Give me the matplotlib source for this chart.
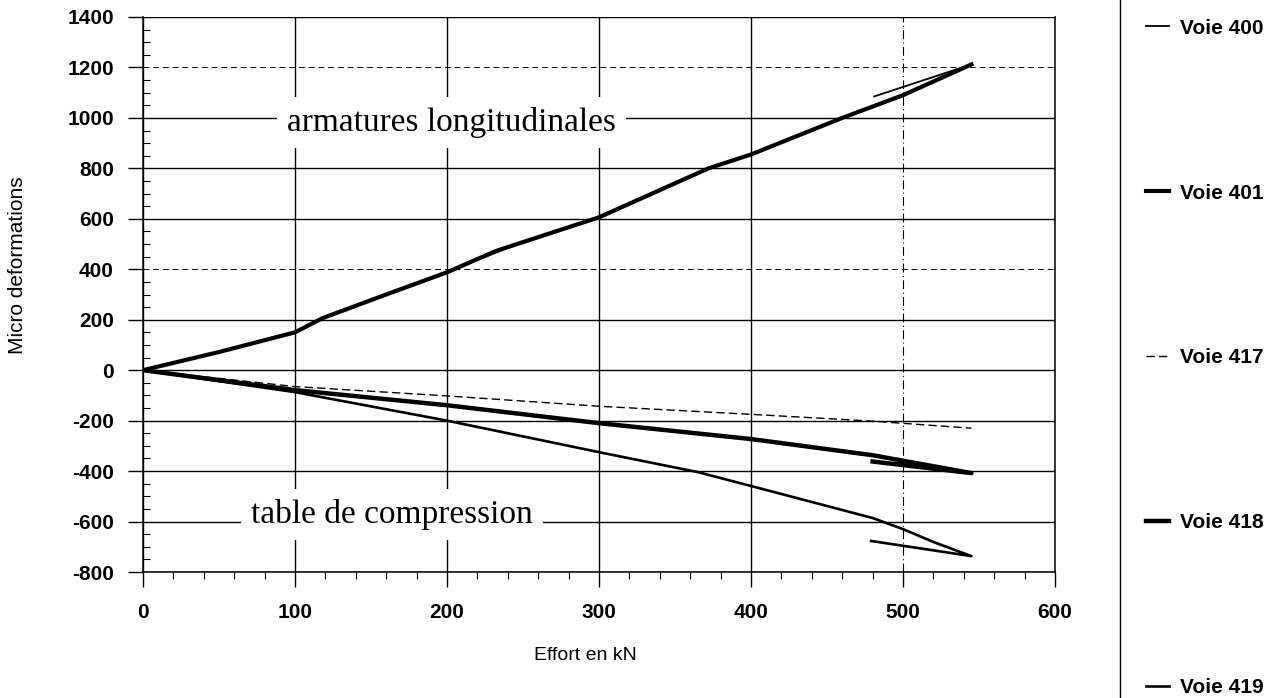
import matplotlib.pyplot as plt
from matplotlib.lines import Line2D
from matplotlib.ticker import MultipleLocator

# effort (kN) / micro deformations
x_400 = [0, 50, 100, 118, 160, 200, 240, 300, 372, 400, 460, 500, 545, 481]
y_400 = [0, 72, 150, 206, 300, 388, 485, 606, 800, 855, 1000, 1090, 1212, 1085]

x_401 = [0, 50, 100, 118, 160, 200, 232, 240, 300, 372, 400, 460, 500, 545]
y_401 = [0, 72, 150, 206, 300, 388, 472, 488, 606, 800, 855, 1000, 1090, 1212]

x_417 = [0, 100, 200, 300, 400, 480, 545]
y_417 = [0, -65, -102, -143, -175, -202, -230]

x_418 = [0, 100, 200, 300, 400, 480, 545, 480]
y_418 = [0, -79, -139, -210, -273, -337, -408, -362]

x_419 = [0, 100, 200, 240, 300, 365, 400, 480, 500, 520, 545, 479]
y_419 = [0, -87, -200, -250, -325, -404, -459, -586, -630, -681, -737, -677]

labels = ['Voie 400', 'Voie 401', 'Voie 417', 'Voie 418', 'Voie 419']

plt.rcParams['font.family'] = ['Liberation Sans', 'DejaVu Sans']
plt.rcParams['axes.unicode_minus'] = False

fig = plt.figure(figsize=(12.79, 6.98), dpi=100)
ax = fig.add_axes([143 / 1279, 1 - 572 / 698, (1055 - 143) / 1279, (572 - 17) / 698])

l400, = ax.plot(x_400, y_400, color='black', lw=1.3, zorder=4)
l401, = ax.plot(x_401, y_401, color='black', lw=3.0, zorder=4)
l417, = ax.plot(x_417, y_417, color='black', lw=1.0, ls=(0, (6, 3)), zorder=4)
l418, = ax.plot(x_418, y_418, color='black', lw=3.2, zorder=4)
l419, = ax.plot(x_419, y_419, color='black', lw=1.9, zorder=4)

ax.set_xlim(0, 600)
ax.set_ylim(-800, 1400)
ax.xaxis.set_major_locator(MultipleLocator(100))
ax.xaxis.set_minor_locator(MultipleLocator(20))
ax.yaxis.set_major_locator(MultipleLocator(200))
ax.yaxis.set_minor_locator(MultipleLocator(50))

ax.grid(True, which='major', color='black', lw=1.0)
ax.set_axisbelow(True)
# the scan shows some grid lines broken / faint
for gl, val in zip(ax.get_ygridlines(), ax.get_yticks()):
    if val in (1200, 400):
        gl.set_linestyle((0, (6, 4)))
        gl.set_linewidth(0.7)
for gl, val in zip(ax.get_xgridlines(), ax.get_xticks()):
    if val == 500:
        gl.set_linestyle((0, (8, 3, 1, 3)))
        gl.set_linewidth(0.8)

for side in ['left', 'bottom', 'right']:
    ax.spines[side].set_linewidth(1.1)
ax.spines['top'].set_linestyle((0, (6, 5)))
ax.spines['top'].set_linewidth(0.7)

ax.tick_params(axis='both', which='major', direction='out', length=11, width=1.0,
               labelsize=15, pad=10)
ax.tick_params(axis='x', which='major', pad=11)
ax.tick_params(axis='x', which='minor', direction='out', length=5, width=0.8)
ax.tick_params(axis='y', which='minor', direction='in', length=5, width=0.8)
for lab in ax.get_xticklabels() + ax.get_yticklabels():
    lab.set_fontweight('bold')

ax.set_xlabel('Effort en kN', fontsize=14)
ax.set_ylabel('Micro deformations', fontsize=15)
ax.xaxis.set_label_coords(0.485, -0.135)
ax.yaxis.set_label_coords(-0.127, 0.553)

ax.text(203, 980, 'armatures longitudinales', family='Liberation Serif', fontsize=24,
        ha='center', va='center', zorder=3,
        bbox=dict(boxstyle='square,pad=0.3', fc='white', ec='none'))
ax.text(164, -572, 'table de compression', family='Liberation Serif', fontsize=24,
        ha='center', va='center', zorder=3,
        bbox=dict(boxstyle='square,pad=0.3', fc='white', ec='none'))

# separator line of the legend area
fig.add_artist(Line2D([1120 / 1279, 1120 / 1279], [0, 1], transform=fig.transFigure,
                      color='black', lw=1.0))

leg = fig.legend([l400, l401, l417, l418, l419], labels,
                 loc='upper left', bbox_to_anchor=(1127 / 1279, 1 - 0 / 698),
                 frameon=False, handlelength=1.1, handletextpad=0.55,
                 labelspacing=7.0, prop={'size': 15, 'weight': 'bold'})

plt.savefig('out.png', dpi=100)
